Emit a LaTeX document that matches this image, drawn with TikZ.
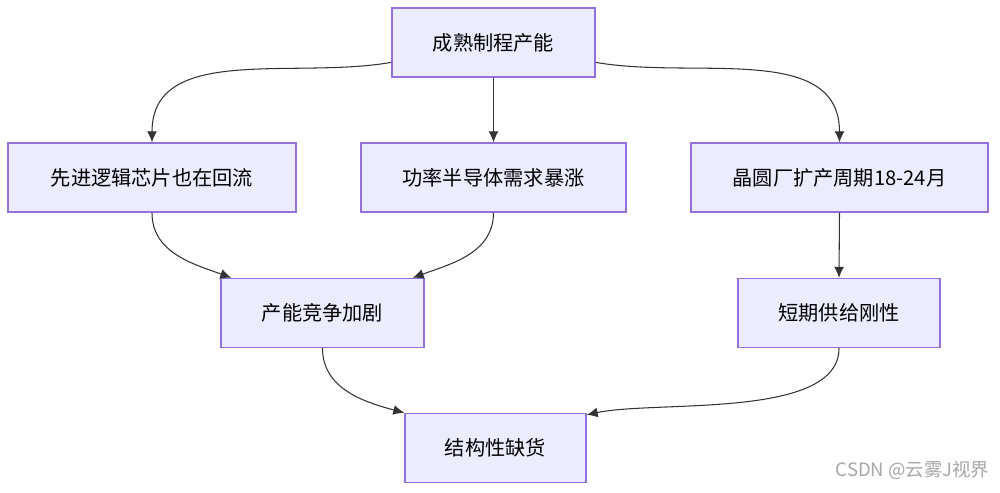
\documentclass[tikz,border=0pt]{standalone}
\usepackage{fontspec}
\setmainfont{Noto Sans CJK SC}
\definecolor{boxfill}{HTML}{ECECFF}
\definecolor{boxline}{HTML}{9370DB}
\definecolor{arrline}{HTML}{333333}
\tikzset{
  box/.style={draw=boxline,fill=boxfill,line width=0.8pt,minimum height=1.38cm,font=\fontsize{11.5}{13}\selectfont},
  arr/.style={draw=arrline,line width=0.6pt,-{Latex[length=2.2mm,width=2mm]}}
}
\usetikzlibrary{arrows.meta}
\begin{document}
\begin{tikzpicture}
\useasboundingbox (0,0) rectangle (20,9.84);
\node[box,minimum width=4.06cm] (mature) at (9.87,8.99) {成熟制程产能};
\node[box,minimum width=5.76cm] (logic) at (3.04,6.29) {先进逻辑芯片也在回流};
\node[box,minimum width=5.30cm] (power) at (9.87,6.29) {功率半导体需求暴涨};
\node[box,minimum width=5.94cm] (fab) at (16.79,6.29) {晶圆厂扩产周期18-24月};
\node[box,minimum width=4.06cm] (compete) at (6.45,3.58) {产能竞争加剧};
\node[box,minimum width=4.04cm] (rigid) at (16.78,3.58) {短期供给刚性};
\node[box,minimum width=3.62cm] (short) at (9.91,0.88) {结构性缺货};
\node[text=gray!70,font=\fontsize{10.5}{12}\selectfont] (mark) at (18.25,0.44) {CSDN @云雾J视界};
% edges
\draw[arr] (mature.191) to[out=190,in=90] (logic.north);
\draw[arr] (mature.south) -- (power.north);
\draw[arr] (mature.349) to[out=-10,in=90] (fab.north);
\draw[arr] (logic.south) to[out=-90,in=160] ([xshift=0.22cm]compete.north west);
\draw[arr] (power.south) to[out=-90,in=20] ([xshift=-0.24cm]compete.north east);
\draw[arr] (fab.south) -- (rigid.north);
\draw[arr] (compete.south) to[out=-90,in=165] (short.north west);
\draw[arr] (rigid.south) to[out=-90,in=12,looseness=0.7] (short.20);
\end{tikzpicture}
\end{document}
